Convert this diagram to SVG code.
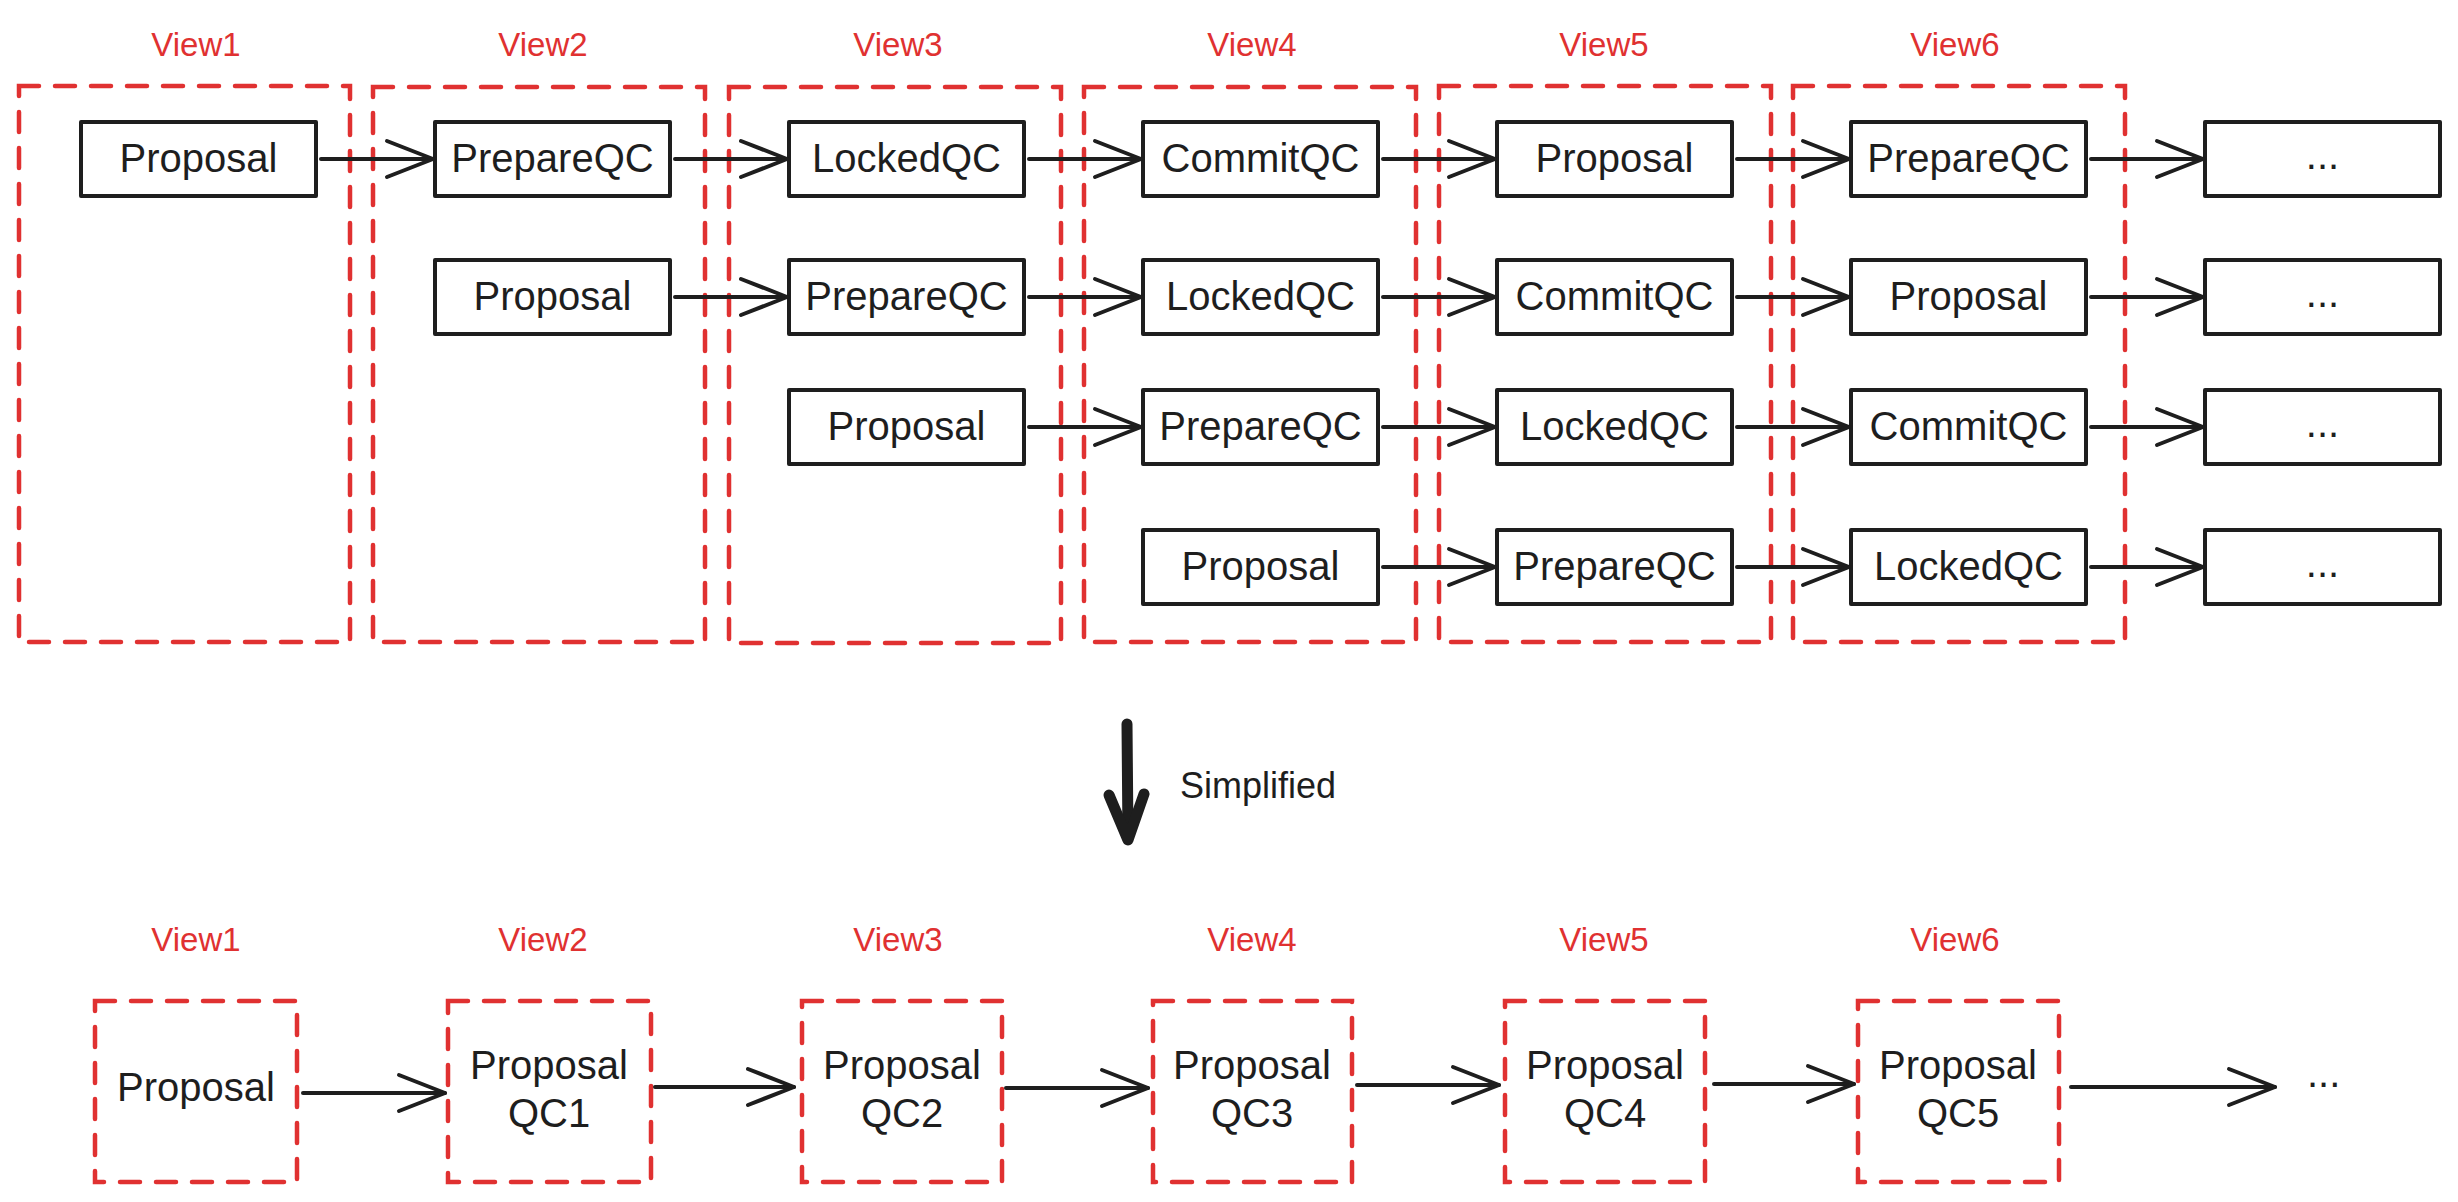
<svg xmlns="http://www.w3.org/2000/svg" width="2458" height="1202" viewBox="0 0 2458 1202">
<style>
.bg{fill:#ffffff}
.node rect{fill:#ffffff;stroke:#1e1e1e;stroke-width:4;stroke-linejoin:round}
.view rect{fill:none;stroke:#e03131;stroke-width:4.5;stroke-dasharray:20 16;stroke-linecap:round}
.t{font-family:"Liberation Sans",Arial,sans-serif;font-size:40px;fill:#1e1e1e;text-anchor:middle}
.vl{font-family:"Liberation Sans",Arial,sans-serif;font-size:33px;fill:#e03131;text-anchor:middle}
.conn path{fill:none;stroke:#1e1e1e;stroke-width:4;stroke-linecap:round;stroke-linejoin:round}
.conn path.a{marker-end:url(#ah)}
</style>
<defs>
<marker id="ah" viewBox="0 0 52 42" refX="49" refY="21" markerWidth="52" markerHeight="42" markerUnits="userSpaceOnUse" orient="auto">
<path d="M3 3 L49 21 L3 39" fill="none" stroke="#1e1e1e" stroke-width="4" stroke-linecap="round" stroke-linejoin="round"/>
</marker>
</defs>
<rect class="bg" x="0" y="0" width="2458" height="1202"/>

<!-- view containers top -->
<g id="view1-top" class="view"><rect x="19" y="86" width="331" height="556"/><text class="vl" x="196" y="56">View1</text></g>
<g id="view2-top" class="view"><rect x="373" y="87" width="332" height="555"/><text class="vl" x="543" y="56">View2</text></g>
<g id="view3-top" class="view"><rect x="729" y="87" width="332" height="556"/><text class="vl" x="898" y="56">View3</text></g>
<g id="view4-top" class="view"><rect x="1084" y="87" width="332" height="555"/><text class="vl" x="1252" y="56">View4</text></g>
<g id="view5-top" class="view"><rect x="1439" y="86" width="332" height="556"/><text class="vl" x="1604" y="56">View5</text></g>
<g id="view6-top" class="view"><rect x="1793" y="86" width="332" height="556"/><text class="vl" x="1955" y="56">View6</text></g>

<!-- row 1 -->
<g id="r1c1" class="node"><rect x="81" y="122" width="235" height="74"/><text class="t" x="198.5" y="172">Proposal</text></g>
<g id="r1c2" class="node"><rect x="435" y="122" width="235" height="74"/><text class="t" x="552.5" y="172">PrepareQC</text></g>
<g id="r1c3" class="node"><rect x="789" y="122" width="235" height="74"/><text class="t" x="906.5" y="172">LockedQC</text></g>
<g id="r1c4" class="node"><rect x="1143" y="122" width="235" height="74"/><text class="t" x="1260.5" y="172">CommitQC</text></g>
<g id="r1c5" class="node"><rect x="1497" y="122" width="235" height="74"/><text class="t" x="1614.5" y="172">Proposal</text></g>
<g id="r1c6" class="node"><rect x="1851" y="122" width="235" height="74"/><text class="t" x="1968.5" y="172">PrepareQC</text></g>
<g id="r1c7" class="node"><rect x="2205" y="122" width="235" height="74"/><text class="t" x="2322.5" y="169">...</text></g>

<!-- row 2 -->
<g id="r2c2" class="node"><rect x="435" y="260" width="235" height="74"/><text class="t" x="552.5" y="310">Proposal</text></g>
<g id="r2c3" class="node"><rect x="789" y="260" width="235" height="74"/><text class="t" x="906.5" y="310">PrepareQC</text></g>
<g id="r2c4" class="node"><rect x="1143" y="260" width="235" height="74"/><text class="t" x="1260.5" y="310">LockedQC</text></g>
<g id="r2c5" class="node"><rect x="1497" y="260" width="235" height="74"/><text class="t" x="1614.5" y="310">CommitQC</text></g>
<g id="r2c6" class="node"><rect x="1851" y="260" width="235" height="74"/><text class="t" x="1968.5" y="310">Proposal</text></g>
<g id="r2c7" class="node"><rect x="2205" y="260" width="235" height="74"/><text class="t" x="2322.5" y="307">...</text></g>

<!-- row 3 -->
<g id="r3c3" class="node"><rect x="789" y="390" width="235" height="74"/><text class="t" x="906.5" y="440">Proposal</text></g>
<g id="r3c4" class="node"><rect x="1143" y="390" width="235" height="74"/><text class="t" x="1260.5" y="440">PrepareQC</text></g>
<g id="r3c5" class="node"><rect x="1497" y="390" width="235" height="74"/><text class="t" x="1614.5" y="440">LockedQC</text></g>
<g id="r3c6" class="node"><rect x="1851" y="390" width="235" height="74"/><text class="t" x="1968.5" y="440">CommitQC</text></g>
<g id="r3c7" class="node"><rect x="2205" y="390" width="235" height="74"/><text class="t" x="2322.5" y="437">...</text></g>

<!-- row 4 -->
<g id="r4c4" class="node"><rect x="1143" y="530" width="235" height="74"/><text class="t" x="1260.5" y="580">Proposal</text></g>
<g id="r4c5" class="node"><rect x="1497" y="530" width="235" height="74"/><text class="t" x="1614.5" y="580">PrepareQC</text></g>
<g id="r4c6" class="node"><rect x="1851" y="530" width="235" height="74"/><text class="t" x="1968.5" y="580">LockedQC</text></g>
<g id="r4c7" class="node"><rect x="2205" y="530" width="235" height="74"/><text class="t" x="2322.5" y="577">...</text></g>

<!-- simplified label -->
<g id="simplified-label"><text x="1180" y="798" font-family="'Liberation Sans',Arial,sans-serif" font-size="36" fill="#1e1e1e">Simplified</text></g>

<!-- bottom views -->
<g id="view1-bottom" class="view"><rect x="95" y="1001" width="202" height="181"/><text class="vl" x="196" y="951">View1</text><text class="t" x="196" y="1101">Proposal</text></g>
<g id="view2-bottom" class="view"><rect x="448" y="1001" width="203" height="181"/><text class="vl" x="543" y="951">View2</text><text class="t" x="549" y="1079">Proposal</text><text class="t" x="549" y="1127">QC1</text></g>
<g id="view3-bottom" class="view"><rect x="802" y="1001" width="200" height="181"/><text class="vl" x="898" y="951">View3</text><text class="t" x="902" y="1079">Proposal</text><text class="t" x="902" y="1127">QC2</text></g>
<g id="view4-bottom" class="view"><rect x="1153" y="1001" width="199" height="181"/><text class="vl" x="1252" y="951">View4</text><text class="t" x="1252" y="1079">Proposal</text><text class="t" x="1252" y="1127">QC3</text></g>
<g id="view5-bottom" class="view"><rect x="1505" y="1001" width="200" height="181"/><text class="vl" x="1604" y="951">View5</text><text class="t" x="1605" y="1079">Proposal</text><text class="t" x="1605" y="1127">QC4</text></g>
<g id="view6-bottom" class="view"><rect x="1858" y="1001" width="201" height="181"/><text class="vl" x="1955" y="951">View6</text><text class="t" x="1958" y="1079">Proposal</text><text class="t" x="1958" y="1127">QC5</text></g>
<g id="ellipsis-bottom"><text class="t" x="2307" y="1087" style="text-anchor:start">...</text></g>

<!-- connectors -->
<g id="connectors" class="conn">
<!-- row 1 -->
<path class="a" d="M321 159 L433 159"/>
<path class="a" d="M675 159 L787 159"/>
<path class="a" d="M1029 159 L1141 159"/>
<path class="a" d="M1383 159 L1495 159"/>
<path class="a" d="M1737 159 L1849 159"/>
<path class="a" d="M2091 159 L2203 159"/>
<!-- row 2 -->
<path class="a" d="M675 297 L787 297"/>
<path class="a" d="M1029 297 L1141 297"/>
<path class="a" d="M1383 297 L1495 297"/>
<path class="a" d="M1737 297 L1849 297"/>
<path class="a" d="M2091 297 L2203 297"/>
<!-- row 3 -->
<path class="a" d="M1029 427 L1141 427"/>
<path class="a" d="M1383 427 L1495 427"/>
<path class="a" d="M1737 427 L1849 427"/>
<path class="a" d="M2091 427 L2203 427"/>
<!-- row 4 -->
<path class="a" d="M1383 567 L1495 567"/>
<path class="a" d="M1737 567 L1849 567"/>
<path class="a" d="M2091 567 L2203 567"/>
<!-- simplified arrow -->
<path d="M1127 724 L1128 838" style="stroke-width:11"/>
<path d="M1109 795 L1128 840 L1144 794" style="stroke-width:11"/>
<!-- bottom -->
<path class="a" d="M303 1093 L445 1093"/>
<path class="a" d="M655 1087 L794 1087"/>
<path class="a" d="M1006 1088 L1148 1088"/>
<path class="a" d="M1357 1085 L1499 1085"/>
<path class="a" d="M1714 1084 L1854 1084"/>
<path class="a" d="M2071 1087 L2275 1087"/>
</g>
</svg>
